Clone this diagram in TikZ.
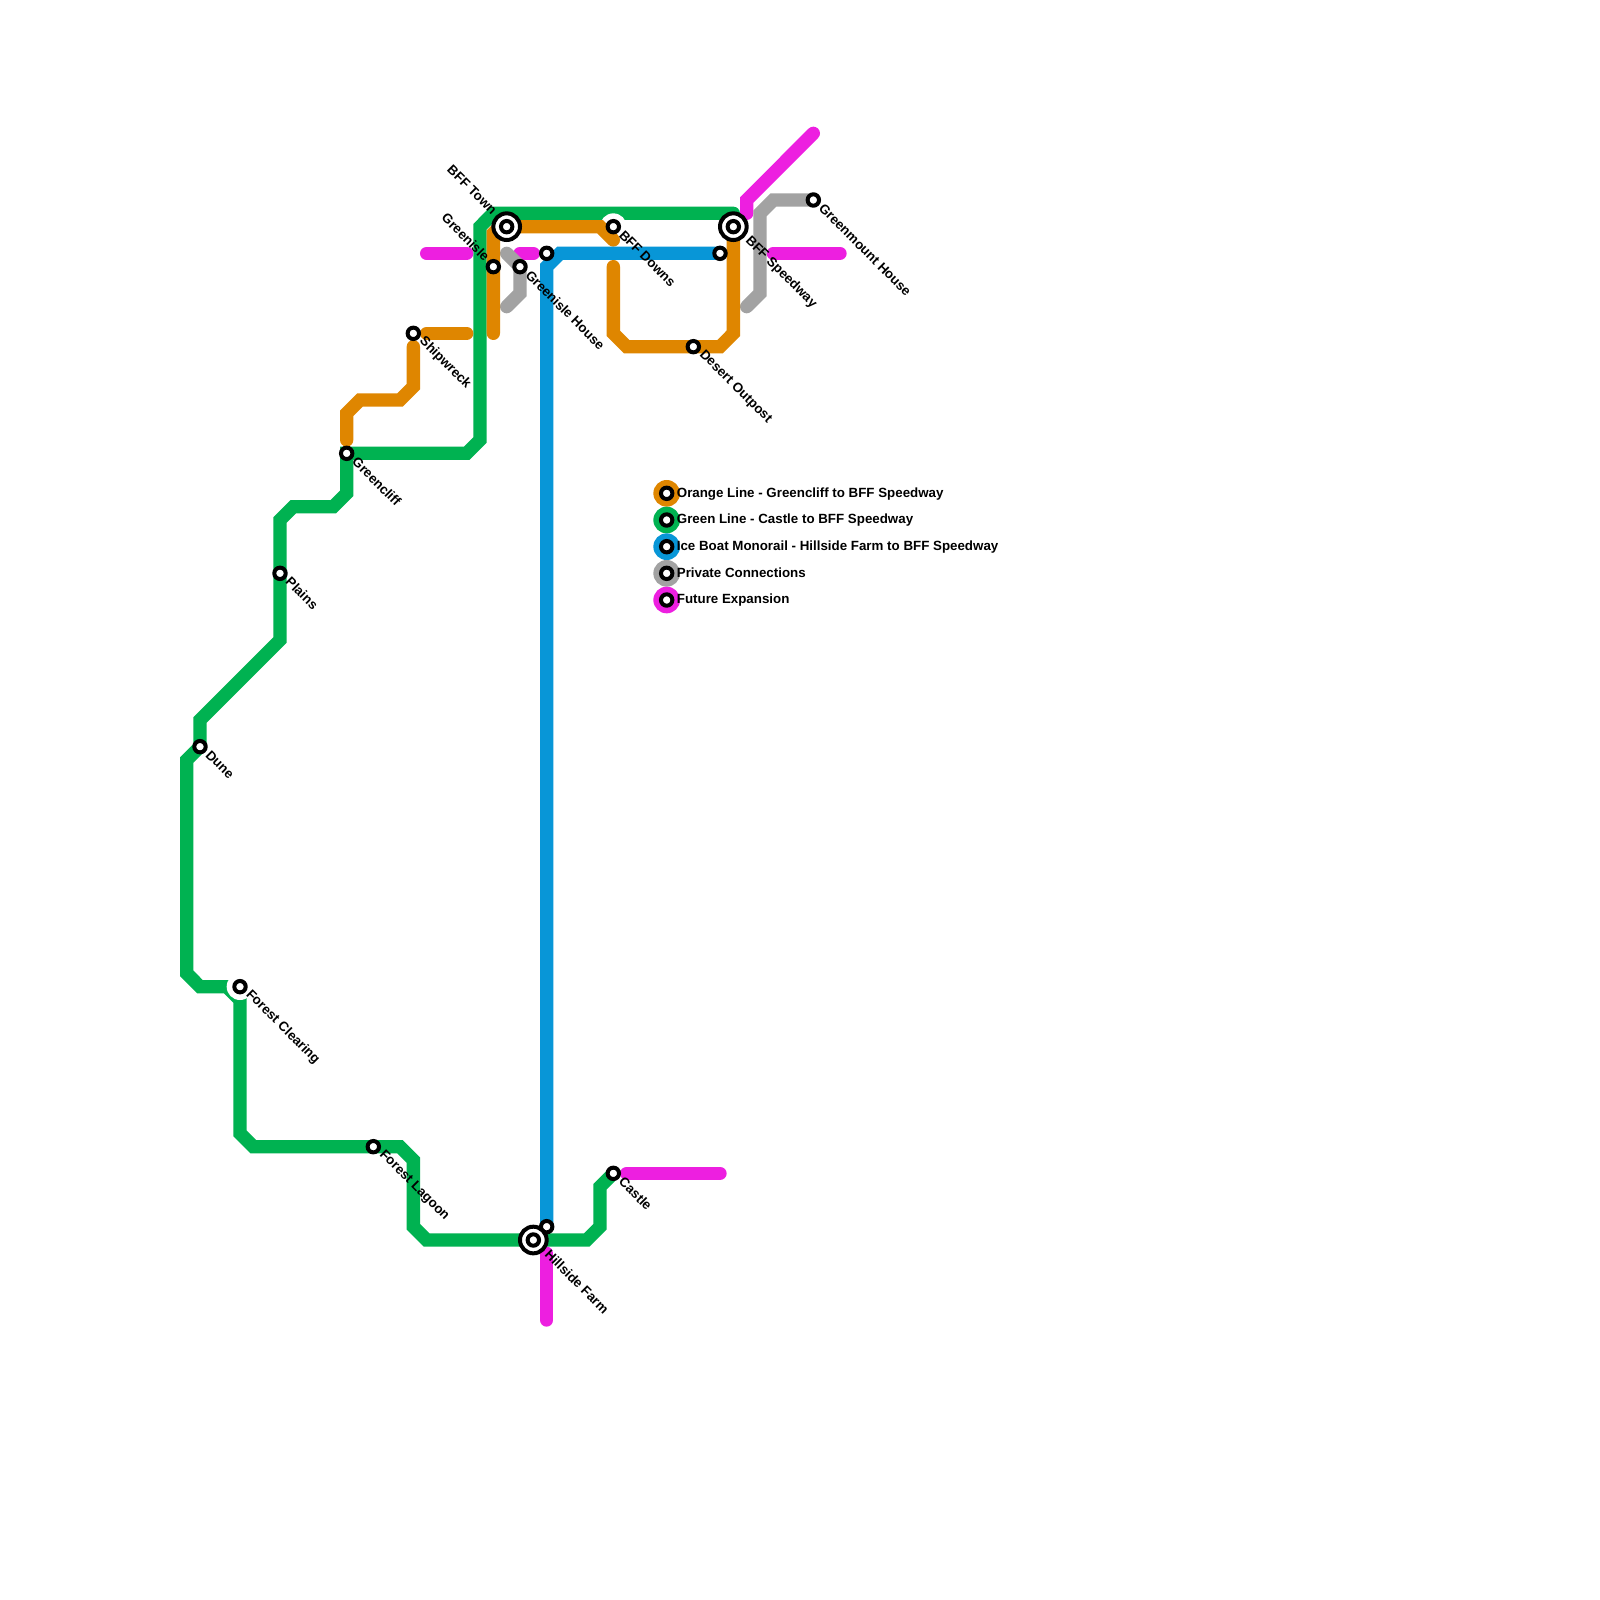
\documentclass[tikz,border=0pt]{standalone}
\usepackage{fontspec}
\setmainfont{Liberation Sans}
\definecolor{gline}{HTML}{00B251}
\definecolor{oline}{HTML}{DF8600}
\definecolor{bline}{HTML}{0896D7}
\definecolor{pline}{HTML}{A2A2A2}
\definecolor{mline}{HTML}{ED1FE0}
\tikzset{
 metro/.style={line width=13.33pt,line cap=round,line join=miter},
 stn/.style={circle,draw=black,fill=white,line width=4pt,minimum size=11.4pt,inner sep=0pt},
 hub/.style={circle,draw=black,fill=white,line width=4pt,minimum size=26.67pt,inner sep=0pt},
 halo/.style={circle,fill=white,minimum size=26.67pt,inner sep=0pt},
 lab/.style={font=\fontsize{13.33}{13.33}\selectfont\bfseries,text=black,inner sep=0pt,anchor=west,rotate=-45},
 labl/.style={font=\fontsize{13.33}{13.33}\selectfont\bfseries,text=black,inner sep=0pt,anchor=east,rotate=-45},
 legt/.style={font=\fontsize{13.33}{13.33}\selectfont\bfseries,text=black,inner sep=0pt,anchor=base west},
 legc/.style={circle,minimum size=26.67pt,inner sep=0pt},
}
\begin{document}
\begin{tikzpicture}[x=1pt,y=-1pt]
\useasboundingbox (0,0) rectangle (1600,1600);
\fill[white] (0,0) rectangle (1600,1600);
% named station positions
\coordinate (castle) at (613.33,1173.33);
\coordinate (hill) at (533.33,1240);
\coordinate (hillb) at (546.67,1226.67);
\coordinate (lagoon) at (373.33,1146.67);
\coordinate (clearing) at (240,986.67);
\coordinate (dune) at (200,746.67);
\coordinate (plains) at (280,573.33);
\coordinate (cliff) at (346.67,453.33);
\coordinate (ship) at (413.33,333.33);
\coordinate (town) at (506.67,226.67);
\coordinate (isle) at (493.33,266.67);
\coordinate (house) at (520,266.67);
\coordinate (houseb) at (546.67,253.33);
\coordinate (downs) at (613.33,226.67);
\coordinate (speed) at (733.33,226.67);
\coordinate (speedb) at (720,253.33);
\coordinate (desert) at (693.33,346.67);
\coordinate (mount) at (813.33,200);
% green
\draw[metro,gline] (castle) -- (600,1186.67) -- (600,1226.67) -- (586.67,1240) -- (426.67,1240) -- (413.33,1226.67) -- (413.33,1160) -- (400,1146.67) -- (253.33,1146.67) -- (240,1133.33) -- (240,1000) -- (226.67,986.67) -- (200,986.67) -- (186.67,973.33) -- (186.67,760) -- (dune) -- (200,720) -- (280,640) -- (280,520) -- (293.33,506.67) -- (333.33,506.67) -- (346.67,493.33) -- (cliff) -- (466.67,453.33) -- (480,440) -- (480,226.67) -- (493.33,213.33) -- (733.33,213.33);
\node[halo] (hd) at (downs) {};
\node[halo] (hc) at (clearing) {};
% magenta
\draw[metro,mline] (426.67,253.33) -- (466.67,253.33);
\draw[metro,mline] (520,253.33) -- (533.33,253.33);
\draw[metro,mline] (773.33,253.33) -- (840,253.33);
\draw[metro,mline] (746.67,213.33) -- (746.67,200) -- (813.33,133.33);
\draw[metro,mline] (626.67,1173.33) -- (720,1173.33);
\draw[metro,mline] (546.67,1253.33) -- (546.67,1320);
% gray
\draw[metro,pline] (506.67,253.33) -- (house) -- (520,293.33) -- (506.67,306.67);
\draw[metro,pline] (746.67,306.67) -- (760,293.33) -- (760,213.33) -- (773.33,200) -- (mount);
% orange
\draw[metro,oline] (346.67,440) -- (346.67,413.33) -- (360,400) -- (400,400) -- (413.33,386.67) -- (413.33,346.67);
\draw[metro,oline] (426.67,333.33) -- (466.67,333.33);
\draw[metro,oline] (493.33,333.33) -- (493.33,233.33) -- (500,226.67) -- (600,226.67) -- (613.33,240);
\draw[metro,oline] (613.33,266.67) -- (613.33,333.33) -- (626.67,346.67) -- (720,346.67) -- (733.33,333.33) -- (speed);
% blue
\draw[metro,bline] (hillb) -- (546.67,266.67) -- (560,253.33) -- (speedb);
% stations
\node[stn] (s1) at (castle) {};
\node[stn] (s2) at (hillb) {};
\node[stn] (s3) at (lagoon) {};
\node[stn] (s4) at (clearing) {};
\node[stn] (s5) at (dune) {};
\node[stn] (s6) at (plains) {};
\node[stn] (s7) at (cliff) {};
\node[stn] (s8) at (ship) {};
\node[stn] (s9) at (isle) {};
\node[stn] (s10) at (house) {};
\node[stn] (s11) at (houseb) {};
\node[stn] (s12) at (downs) {};
\node[stn] (s13) at (speedb) {};
\node[stn] (s14) at (desert) {};
\node[stn] (s15) at (mount) {};
\node[hub] (h1) at (hill) {};
\node[stn] (h1i) at (hill) {};
\node[hub] (h2) at (town) {};
\node[stn] (h2i) at (town) {};
\node[hub] (h3) at (speed) {};
\node[stn] (h3i) at (speed) {};
% labels
\node[lab] (l1) at ([shift={(8,6)}]castle) {Castle};
\node[lab] (l2) at ([shift={(14,12)}]hill) {Hillside Farm};
\node[lab] (l3) at ([shift={(8,6)}]lagoon) {Forest Lagoon};
\node[lab] (l4) at ([shift={(8,6)}]clearing) {Forest Clearing};
\node[lab] (l5) at ([shift={(8,6)}]dune) {Dune};
\node[lab] (l6) at ([shift={(8,6)}]plains) {Plains};
\node[lab] (l7) at ([shift={(8,6)}]cliff) {Greencliff};
\node[lab] (l8) at ([shift={(8,6)}]ship) {Shipwreck};
\node[lab] (l9) at ([shift={(8,6)}]house) {Greenisle House};
\node[lab] (l10) at ([shift={(8,6)}]downs) {BFF Downs};
\node[lab] (l11) at ([shift={(14,12)}]speed) {BFF Speedway};
\node[lab] (l12) at ([shift={(8,6)}]desert) {Desert Outpost};
\node[lab] (l13) at ([shift={(8,6)}]mount) {Greenmount House};
\node[labl] (l14) at ([shift={(-12,-14)}]town) {BFF Town};
\node[labl] (l15) at ([shift={(-6,-8)}]isle) {Greenisle};
% legend
\foreach \n/\c/\y in {a/oline/493.33,b/gline/520,c/bline/546.67,d/pline/573.33,e/mline/600}{
 \node[legc,fill=\c] (k\n) at (666.67,\y) {};
 \node[stn] (ks\n) at (666.67,\y) {};
}
\node[legt] (ta) at (676.67,497.1) {Orange Line - Greencliff to BFF Speedway};
\node[legt] (tb) at (676.67,523.8) {Green Line - Castle to BFF Speedway};
\node[legt] (tc) at (676.67,550.5) {Ice Boat Monorail - Hillside Farm to BFF Speedway};
\node[legt] (td) at (676.67,577.1) {Private Connections};
\node[legt] (te) at (676.67,603.8) {Future Expansion};
\end{tikzpicture}
\end{document}
